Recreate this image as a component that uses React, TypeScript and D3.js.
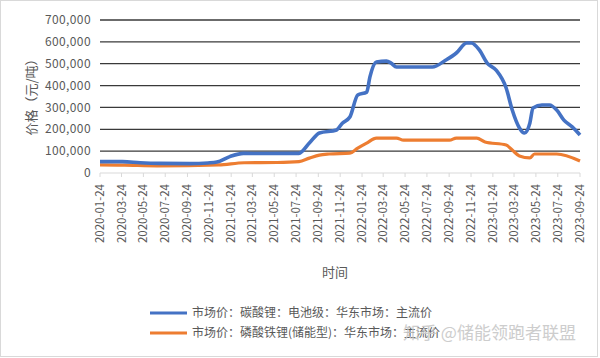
import React from "react";
import * as d3 from "d3";

const xTicks = [
  "2020-01-24", "2020-03-24", "2020-05-24", "2020-07-24", "2020-09-24", "2020-11-24",
  "2021-01-24", "2021-03-24", "2021-05-24", "2021-07-24", "2021-09-24", "2021-11-24",
  "2022-01-24", "2022-03-24", "2022-05-24", "2022-07-24", "2022-09-24", "2022-11-24",
  "2023-01-24", "2023-03-24", "2023-05-24", "2023-07-24", "2023-09-24",
];
const yTicks = [0, 100000, 200000, 300000, 400000, 500000, 600000, 700000];

const blueDates = [
  "2020-01-24", "2020-03-27", "2020-05-15", "2020-07-08", "2020-10-01", "2020-11-20", "2020-12-15",
  "2021-01-20", "2021-02-27", "2021-05-01", "2021-08-01", "2021-08-30", "2021-09-27",
  "2021-11-14", "2021-11-30", "2021-12-21", "2022-01-12", "2022-02-06", "2022-02-15",
  "2022-03-05", "2022-04-02", "2022-04-15", "2022-04-30", "2022-08-08", "2022-09-15",
  "2022-10-14", "2022-11-12", "2022-11-25", "2022-12-17", "2023-01-08", "2023-02-02",
  "2023-03-02", "2023-03-19", "2023-04-08", "2023-04-22", "2023-05-07", "2023-05-16",
  "2023-06-10", "2023-07-01", "2023-07-21", "2023-08-10", "2023-09-03", "2023-09-24",
];
const blueValues = [
  52000, 52000, 47000, 44000, 43000, 46000, 50000,
  75000, 90000, 89000, 90000, 137000, 183000,
  197000, 228000, 256000, 357000, 370000, 440000,
  508000, 512000, 503000, 485000, 485000, 517000,
  549000, 595000, 595000, 563000, 503000, 471000,
  389000, 288000, 206000, 183000, 228000, 297000,
  311000, 311000, 288000, 242000, 210000, 174000,
];

const orangeDates = [
  "2020-01-24", "2020-04-01", "2020-07-01", "2020-12-20", "2021-03-01", "2021-06-01",
  "2021-08-01", "2021-08-30", "2021-09-27", "2021-10-24", "2021-12-21", "2022-01-12",
  "2022-02-06", "2022-03-05", "2022-04-30", "2022-05-20", "2022-09-25", "2022-10-14",
  "2022-12-10", "2023-01-02", "2023-03-02", "2023-03-19", "2023-04-08", "2023-05-07",
  "2023-05-20", "2023-07-21", "2023-09-24",
];
const orangeValues = [
  37000, 36000, 33000, 37000, 47000, 48000,
  52000, 68000, 82000, 87000, 91000, 114000,
  137000, 160000, 160000, 150000, 150000, 160000,
  160000, 142000, 128000, 105000, 78000, 69000,
  87000, 87000, 55000,
];

const seriesNames = [
  "市场价：碳酸锂：电池级：华东市场：主流价",
  "市场价：磷酸铁锂(储能型)：华东市场：主流价",
];
const colors = ["#4472C4", "#ED7D31"];

const parse = d3.timeParse("%Y-%m-%d");

export default function App() {
  const W = 600, H = 358;
  const left = 100, right = 580, top = 20, bottom = 173;
  const x = d3.scaleTime()
    .domain([parse("2020-01-24")!, parse("2023-09-24")!])
    .range([left, right]);
  const y = d3.scaleLinear().domain([0, 700000]).range([bottom, top]);
  const fmt = d3.format(",");

  const mk = (dates: string[], vals: number[]) =>
    dates.map((d, i) => ({ d: parse(d)!, v: vals[i] }));
  const line = d3.line<{ d: Date; v: number }>()
    .x((p) => x(p.d))
    .y((p) => y(p.v))
    .curve(d3.curveMonotoneX);

  const blue = mk(blueDates, blueValues);
  const orange = mk(orangeDates, orangeValues);
  const font = "'Noto Sans CJK SC', 'Noto Sans', sans-serif";

  return (
    <svg width={W} height={H} style={{ position: "absolute", left: 0, top: 0 }} fontFamily={font}>
      <rect x={0} y={0} width={W} height={H} fill="#fff" />
      <rect x={0.5} y={0.5} width={597} height={356} fill="none" stroke="#d9d9d9" />
      {yTicks.map((t) => (
        <g key={t}>
          {t > 0 && (
            <line x1={left} x2={right} y1={y(t)} y2={y(t)} stroke="#3a3a3a" strokeWidth={1.3} />
          )}
          <text x={91} y={y(t)} dy="0.35em" textAnchor="end" fontSize={12} fill="#595959" letterSpacing={0.4}>
            {fmt(t)}
          </text>
        </g>
      ))}
      <line x1={left} x2={right} y1={bottom} y2={bottom} stroke="#d9d9d9" strokeWidth={1} />
      {xTicks.map((t) => {
        const xx = x(parse(t)!);
        return (
          <g key={t}>
            <line x1={xx} x2={xx} y1={bottom} y2={bottom + 4} stroke="#d9d9d9" />
            <text
              transform={`translate(${xx},${bottom + 11}) rotate(-90)`}
              textAnchor="end"
              dy="0.35em"
              fontSize={11.5}
              fill="#595959"
            >
              {t}
            </text>
          </g>
        );
      })}
      <path d={line(orange) || ""} fill="none" stroke={colors[1]} strokeWidth={3.2} strokeLinejoin="round" />
      <path d={line(blue) || ""} fill="none" stroke={colors[0]} strokeWidth={3.6} strokeLinejoin="round" />
      <text transform="translate(36,94) rotate(-90)" textAnchor="middle" fontSize={13} fill="#595959">
        价格（元/吨）
      </text>
      <text x={335} y={277} textAnchor="middle" fontSize={13} fill="#595959">时间</text>
      {seriesNames.map((n, i) => (
        <g key={n}>
          <line x1={150} x2={187} y1={313 + i * 20} y2={313 + i * 20} stroke={colors[i]} strokeWidth={3} />
          <text x={192} y={313 + i * 20} dy="0.35em" fontSize={12} fill="#595959">{n}</text>
        </g>
      ))}
      <text x={403} y={333} dy="0.35em" fontSize={17} fill="#c8c8c8" opacity={0.9}>知乎 @储能领跑者联盟</text>
    </svg>
  );
}
